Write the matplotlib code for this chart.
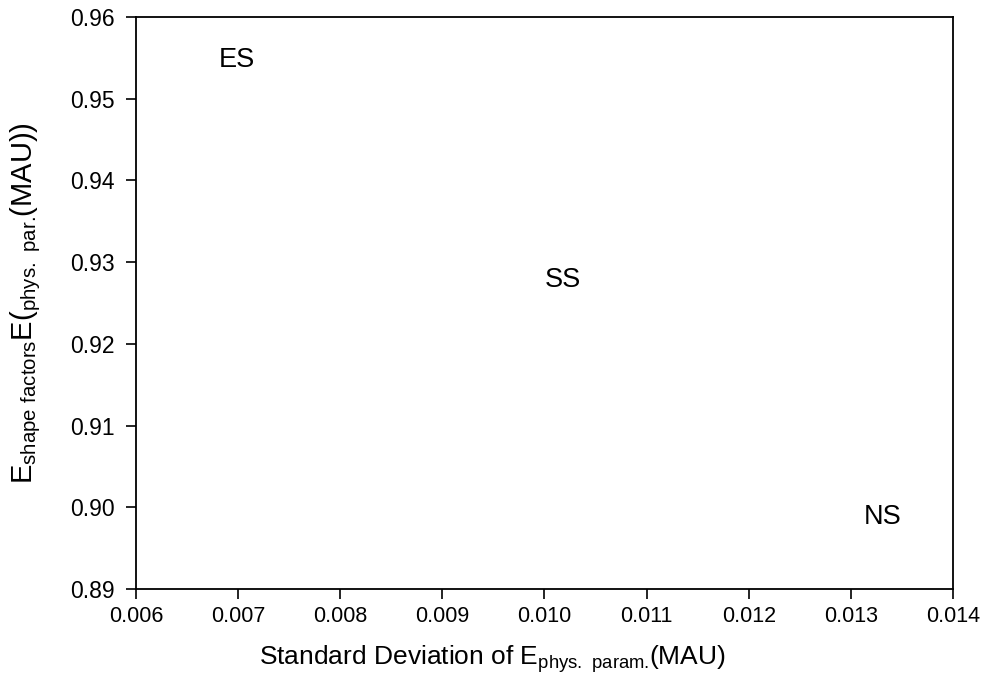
import matplotlib
matplotlib.use("Agg")
from matplotlib import pyplot as plt

plt.rcParams['font.family'] = ['Liberation Sans', 'DejaVu Sans']
plt.rcParams['mathtext.fontset'] = 'custom'
plt.rcParams['mathtext.rm'] = 'Liberation Sans'
plt.rcParams['mathtext.default'] = 'regular'

# data
labels = ["ES", "SS", "NS"]
std_dev = [0.00699, 0.01018, 0.01331]
e_shape = [0.9547, 0.9278, 0.8988]

x_ticks = [0.006, 0.007, 0.008, 0.009, 0.010, 0.011, 0.012, 0.013, 0.014]
y_ticks = [0.89, 0.90, 0.91, 0.92, 0.93, 0.94, 0.95, 0.96]

fig = plt.figure(figsize=(9.85, 6.98), dpi=100)
ax = fig.add_axes([0.138, 0.156, 0.8295, 0.8196])

for lab, x, y in zip(labels, std_dev, e_shape):
    ax.text(x, y, lab, ha="center", va="center", fontsize=19.5)

ax.set_xlim(0.006, 0.014)
ax.set_ylim(0.89, 0.96)
ax.set_xticks(x_ticks)
ax.set_xticklabels(["%.3f" % v for v in x_ticks])
ax.set_yticks(y_ticks)
ax.set_yticklabels(["%.2f" % v for v in y_ticks])
ax.tick_params(direction="out", length=7, width=1.2)
ax.tick_params(axis="x", labelsize=15.5, pad=5)
ax.tick_params(axis="y", labelsize=16.5, pad=8)

for sp in ax.spines.values():
    sp.set_linewidth(1.3)

ax.set_xlabel(r"Standard Deviation of E$_{\mathrm{phys.\ param.}}\!$(MAU)", fontsize=19, labelpad=12)
ax.xaxis.label.set_x(0.436)
ax.set_ylabel(r"E$_{\mathrm{shape\ factors}}$E($_{\mathrm{phys.\ par.}}\!$(MAU))", fontsize=21, labelpad=20)

plt.savefig("out.png", dpi=100)
